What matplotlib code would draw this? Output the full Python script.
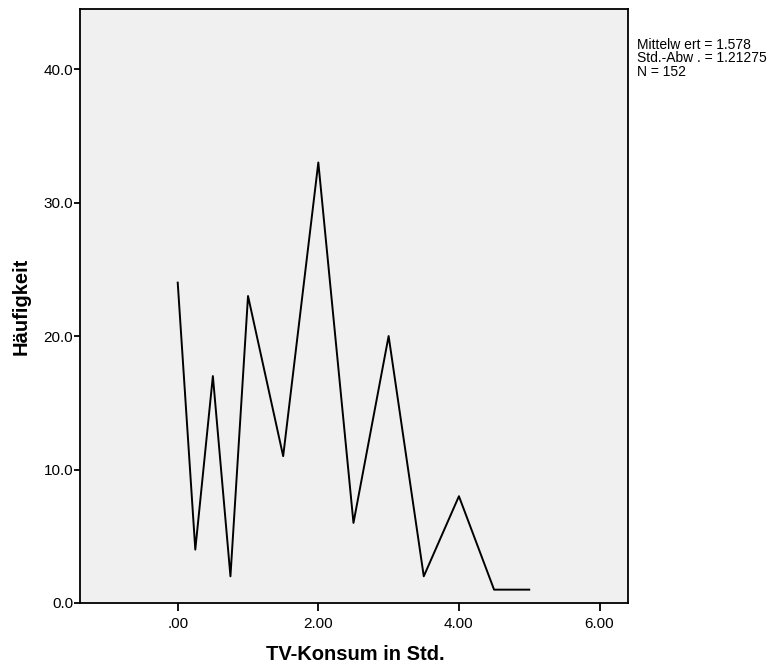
import matplotlib
matplotlib.use("Agg")
import matplotlib.pyplot as plt

plt.rcParams['font.family'] = ['Liberation Sans', 'DejaVu Sans']

# frequency polygon of TV consumption
hours = [0.0, 0.25, 0.5, 0.75, 1.0, 1.5, 2.0, 2.5, 3.0, 3.5, 4.0, 4.5, 5.0]
counts = [24, 4, 17, 2, 23, 11, 33, 6, 20, 2, 8, 1, 1]

xticks = [0, 2, 4, 6]
xticklabels = [".00", "2.00", "4.00", "6.00"]
yticks = [0, 10, 20, 30, 40]
yticklabels = ["0.0", "10.0", "20.0", "30.0", "40.0"]

stats_text = "Mittelw ert = 1.578\nStd.-Abw . = 1.21275\nN = 152"

fig = plt.figure(figsize=(7.77, 6.66), dpi=100)
ax = fig.add_axes([80/777, 63/666, 548/777, 594/666])
ax.set_facecolor("#f0f0f0")

ax.plot(hours, counts, color="black", linewidth=1.4)

ax.set_xlim(-1.39, 6.405)
ax.set_ylim(0, 44.5)
ax.set_xticks(xticks)
ax.set_xticklabels(xticklabels, fontsize=11)
ax.set_yticks(yticks)
ax.set_yticklabels(yticklabels, fontsize=11)
ax.tick_params(axis="x", direction="out", length=6, width=1.3, pad=4)
ax.tick_params(axis="y", direction="out", length=4, width=1.3, pad=1)
for s in ax.spines.values():
    s.set_linewidth(1.3)

# axis titles placed in figure pixels like the reference
fig.text(355/777, 1 - 654/666, "TV-Konsum in Std.", fontsize=14.5,
         fontweight="bold", ha="center", va="center")
fig.text(21/777, 1 - 306/666, "Häufigkeit", fontsize=14.5,
         fontweight="bold", ha="center", va="center", rotation=90)

fig.text(637/777, 1 - 38/666, stats_text, fontsize=10, va="top", ha="left",
         linespacing=0.95)

fig.savefig("out.png", dpi=100)
